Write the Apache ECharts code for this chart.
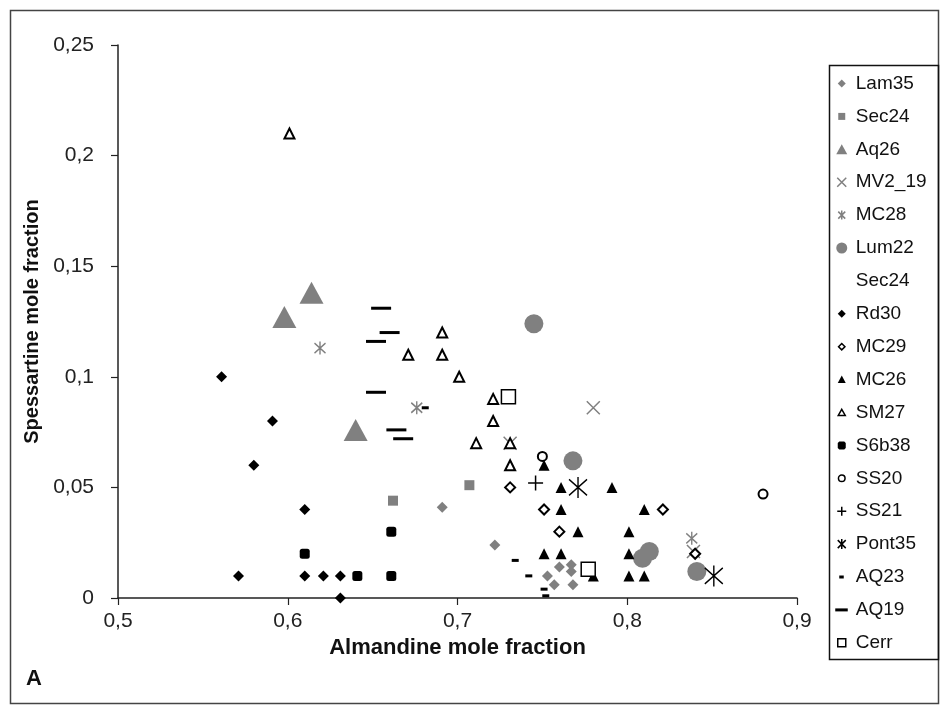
<!DOCTYPE html>
<html><head><meta charset="utf-8">
<script src="https://cdn.jsdelivr.net/npm/echarts@6/dist/echarts.min.js"></script>
<style>html,body{margin:0;padding:0;background:#fff}#c{width:944px;height:710px}</style>
</head><body><div id="c"></div>
<script>
// ---- data: [Almandine, Spessartine] ----
const seriesNames = ['Lam35','Sec24','Aq26','MV2_19','MC28','Lum22','Sec24 ','Rd30','MC29','MC26','SM27','S6b38','SS20','SS21','Pont35','AQ23','AQ19','Cerr'];
const Lam35 = [[0.691,0.041],[0.722,0.024],[0.760,0.014],[0.767,0.015],[0.753,0.010],[0.767,0.012],[0.757,0.006],[0.768,0.006]];
const Sec24 = [[0.707,0.051],[0.662,0.044]];
const Aq26 = [[0.598,0.127],[0.614,0.138],[0.640,0.076]];
const MV2_19 = [[0.780,0.086],[0.731,0.070],[0.839,0.021]];
const MC28 = [[0.619,0.113],[0.676,0.086],[0.838,0.027]];
const Lum22 = [[0.745,0.124],[0.768,0.062],[0.813,0.021],[0.809,0.018],[0.841,0.012]];
const Sec24b = [];
const Rd30 = [[0.561,0.100],[0.591,0.080],[0.580,0.060],[0.610,0.040],[0.571,0.010],[0.610,0.010],[0.621,0.010],[0.631,0.010],[0.631,0.000]];
const MC29 = [[0.731,0.050],[0.751,0.040],[0.760,0.030],[0.821,0.040],[0.840,0.020]];
const MC26 = [[0.751,0.060],[0.761,0.050],[0.791,0.050],[0.761,0.040],[0.771,0.030],[0.751,0.020],[0.761,0.020],[0.780,0.010],[0.801,0.030],[0.801,0.020],[0.810,0.040],[0.801,0.010],[0.810,0.010]];
const SM27 = [[0.601,0.210],[0.691,0.120],[0.671,0.110],[0.691,0.110],[0.701,0.100],[0.721,0.090],[0.721,0.080],[0.711,0.070],[0.731,0.070],[0.731,0.060]];
const S6b38 = [[0.610,0.020],[0.641,0.010],[0.661,0.010],[0.661,0.030]];
const SS20 = [[0.750,0.064],[0.880,0.047]];
const SS21 = [[0.746,0.052]];
const Pont35 = [[0.771,0.050],[0.851,0.010]];
const AQ23 = [[0.681,0.086],[0.734,0.017],[0.742,0.010],[0.751,0.004],[0.752,0.001]];
const AQ19 = [[0.655,0.131],[0.660,0.120],[0.652,0.116],[0.652,0.093],[0.664,0.076],[0.668,0.072]];
const Cerr = [[0.730,0.091],[0.777,0.013]];
const xTicks = {min:0.5, max:0.9, interval:0.1};
const yTicks = {min:0, max:0.25, interval:0.05};
const dataList = [Lam35,Sec24,Aq26,MV2_19,MC28,Lum22,Sec24b,Rd30,MC29,MC26,SM27,S6b38,SS20,SS21,Pont35,AQ23,AQ19,Cerr];

// ---- styles ----
const G = '#808080', K = '#000', W = '#fff', T = 'rgba(0,0,0,0)';
const X_PATH = 'path://M0,0L10,10M10,0L0,10';
const STAR_PATH = 'path://M0,0L10,10M10,0L0,10M5,-1.5L5,11.5';
const PLUS_PATH = 'path://M5,0L5,10M0,5L10,5';
const styles = [
  {symbol:'diamond', size:11, fill:G, stroke:G, bw:0},
  {symbol:'rect', size:10, fill:G, stroke:G, bw:0},
  {symbol:'triangle', size:[24,22], fill:G, stroke:G, bw:0},
  {symbol:X_PATH, size:13, fill:T, stroke:G, bw:1.5},
  {symbol:STAR_PATH, size:[11,13], fill:T, stroke:G, bw:1.5},
  {symbol:'circle', size:19, fill:G, stroke:G, bw:0},
  {symbol:'circle', size:1, fill:T, stroke:T, bw:0},
  {symbol:'diamond', size:11, fill:K, stroke:K, bw:0},
  {symbol:'diamond', size:10, fill:W, stroke:K, bw:2},
  {symbol:'triangle', size:11, fill:K, stroke:K, bw:0},
  {symbol:'triangle', size:10, fill:W, stroke:K, bw:2},
  {symbol:'roundRect', size:10, fill:K, stroke:K, bw:0},
  {symbol:'circle', size:9, fill:W, stroke:K, bw:2},
  {symbol:PLUS_PATH, size:15, fill:T, stroke:K, bw:1.5},
  {symbol:STAR_PATH, size:[18,21], fill:T, stroke:K, bw:1.5},
  {symbol:'rect', size:[7,3], fill:K, stroke:K, bw:0},
  {symbol:'rect', size:[20,3], fill:K, stroke:K, bw:0},
  {symbol:'rect', size:14, fill:W, stroke:K, bw:1.5}
];
// legend icons inside a 14x14 box (corner moves keep the box size)
const P = s => 'path://M0,0M14,14' + s;
const legendIcons = [
  P('M7,3L11,7L7,11L3,7Z'),
  P('M3.5,3.5h7v7h-7Z'),
  P('M7,2L12.5,12L1.5,12Z'),
  P('M2.5,2.5L11.5,11.5M11.5,2.5L2.5,11.5'),
  P('M3.5,3.5L10.5,10.5M10.5,3.5L3.5,10.5M7,2.5L7,11.5'),
  P('M1.5,7A5.5,5.5 0 1 1 12.5,7A5.5,5.5 0 1 1 1.5,7Z'),
  P('M6,6h1v1h-1Z'),
  P('M7,3L11,7L7,11L3,7Z'),
  P('M7,3.8L10.2,7L7,10.2L3.8,7Z'),
  P('M7,3L11,10.5L3,10.5Z'),
  P('M7,3.8L10.5,10L3.5,10Z'),
  P('M4.5,3h5l1.5,1.5v5l-1.5,1.5h-5l-1.5,-1.5v-5Z'),
  P('M3.7,7A3.3,3.3 0 1 1 10.3,7A3.3,3.3 0 1 1 3.7,7Z'),
  P('M7,2.5V11.5M2.5,7H11.5'),
  P('M3,3L11,11M11,3L3,11M7,2L7,12'),
  P('M4.5,5.5h4.5v3h-4.5Z'),
  P('M0.5,5.5h12.5v3h-12.5Z'),
  P('M3,3h8v8h-8Z')
];

const fmt = v => String(+v.toFixed(2)).replace('.', ',');
const FONT = '"Liberation Sans", Arial, sans-serif';

const chart = echarts.init(document.getElementById('c'), null, {renderer:'canvas'});
chart.setOption({
  animation:false,
  backgroundColor:'#fff',
  grid:{left:118, right:147, top:45, bottom:112, containLabel:false},
  xAxis:{type:'value', min:xTicks.min, max:xTicks.max, interval:xTicks.interval,
    name:'Almandine mole fraction', nameLocation:'middle', nameGap:38,
    nameTextStyle:{fontFamily:FONT, fontWeight:'bold', fontSize:22, color:'#111'},
    axisLine:{show:true, onZero:false, lineStyle:{color:'#222', width:1.5}},
    axisTick:{show:true, inside:false, length:7, lineStyle:{color:'#222', width:1.2}},
    axisLabel:{formatter:fmt, fontFamily:FONT, fontSize:21, color:'#222', margin:13},
    splitLine:{show:false}},
  yAxis:{type:'value', min:yTicks.min, max:yTicks.max, interval:yTicks.interval,
    name:'Spessartine mole fraction', nameLocation:'middle', nameGap:73,
    nameTextStyle:{fontFamily:FONT, fontWeight:'bold', fontSize:20, color:'#111'},
    axisLine:{show:true, onZero:false, lineStyle:{color:'#222', width:1.5}},
    axisTick:{show:true, inside:false, length:7, lineStyle:{color:'#222', width:1.2}},
    axisLabel:{formatter:fmt, fontFamily:FONT, fontSize:21, color:'#222', margin:24},
    splitLine:{show:false}},
  legend:{orient:'vertical', left:834, top:74, padding:0, itemWidth:14, itemHeight:14, itemGap:13.9,
    selectedMode:false,
    textStyle:{fontFamily:FONT, fontSize:19, color:'#111', padding:[0,0,0,2]},
    data: seriesNames.map((n,i)=>({name:n, icon:legendIcons[i],
      itemStyle:{color:styles[i].fill, borderColor:styles[i].stroke,
        borderWidth: styles[i].bw ? Math.min(styles[i].bw,1.5) : 0}}))},
  graphic:[
    {type:'rect', left:8, top:8, shape:{width:928, height:693}, style:{fill:'none', stroke:'#444', lineWidth:1.5}, silent:true},
    {type:'rect', left:827, top:63, shape:{width:109, height:594}, style:{fill:'none', stroke:'#111', lineWidth:1.5}, silent:true},
    {type:'text', left:26, top:668, style:{text:'A', font:'bold 22px "Liberation Sans", Arial, sans-serif', fill:'#111'}, silent:true}
  ],
  series: seriesNames.map((n,i)=>({
    name:n, type:'scatter', data:dataList[i],
    symbol:styles[i].symbol, symbolSize:styles[i].size,
    itemStyle:{color:styles[i].fill, borderColor:styles[i].stroke, borderWidth:styles[i].bw, opacity:1},
    emphasis:{disabled:true}
  }))
});
</script></body></html>
